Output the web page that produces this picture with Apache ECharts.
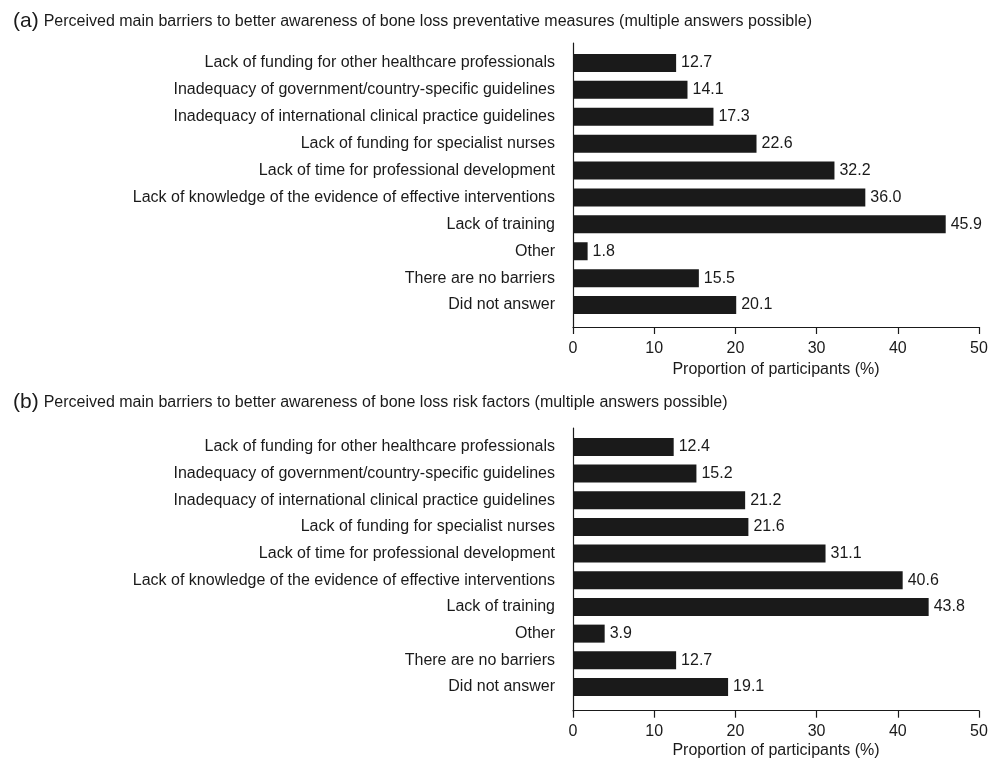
<!DOCTYPE html>
<html>
<head>
<meta charset="utf-8">
<script src="https://cdn.jsdelivr.net/npm/echarts@6/dist/echarts.min.js"></script>
<style>
  html, body { margin: 0; padding: 0; background: #fff; }
  #chart { width: 1000px; height: 760px; }
</style>
</head>
<body>
<div id="chart"></div>
<script>
// Survey answer categories (shared by both panels, listed top to bottom)
const categories = [
  'Lack of funding for other healthcare professionals',
  'Inadequacy of government/country-specific guidelines',
  'Inadequacy of international clinical practice guidelines',
  'Lack of funding for specialist nurses',
  'Lack of time for professional development',
  'Lack of knowledge of the evidence of effective interventions',
  'Lack of training',
  'Other',
  'There are no barriers',
  'Did not answer'
];

// (a) preventative measures, % of participants
const preventativeValues = [12.7, 14.1, 17.3, 22.6, 32.2, 36.0, 45.9, 1.8, 15.5, 20.1];
// (b) risk factors, % of participants
const riskFactorValues = [12.4, 15.2, 21.2, 21.6, 31.1, 40.6, 43.8, 3.9, 12.7, 19.1];

const xTicks = [0, 10, 20, 30, 40, 50];
const titleA = 'Perceived main barriers to better awareness of bone loss preventative measures (multiple answers possible)';
const titleB = 'Perceived main barriers to better awareness of bone loss risk factors (multiple answers possible)';
const axisTitle = 'Proportion of participants (%)';

const FONT = "'Liberation Sans', Arial, sans-serif";
const INK = '#1a1a1a';
const LEFT = 573, RIGHT = 21;

const chart = echarts.init(document.getElementById('chart'), null, { renderer: 'canvas' });

function panelTitle(letter, text, top) {
  return {
    left: 8, top: top,
    text: '{l|(' + letter + ')} {t|' + text + '}',
    textStyle: {
      fontWeight: 'normal',
      rich: {
        l: { fontFamily: FONT, fontSize: 21, fontWeight: 'normal', color: INK },
        t: { fontFamily: FONT, fontSize: 16, fontWeight: 'normal', color: INK }
      }
    }
  };
}

function dataXAxis(gridIndex, offset, labelMargin, nameGap) {
  return {
    gridIndex, type: 'value', min: xTicks[0], max: xTicks[xTicks.length - 1], interval: 10,
    offset,
    name: axisTitle, nameLocation: 'middle', nameGap,
    nameTextStyle: { fontFamily: FONT, fontSize: 16, color: INK },
    axisLine: { show: true, lineStyle: { color: INK, width: 1.2 } },
    axisTick: { show: true, length: 7, lineStyle: { color: INK, width: 1.2 } },
    axisLabel: { fontFamily: FONT, fontSize: 16, color: INK, margin: labelMargin },
    splitLine: { show: false }
  };
}

function dataYAxis(gridIndex) {
  return {
    gridIndex, type: 'category', data: categories, inverse: true,
    axisLine: { show: false }, axisTick: { show: false },
    axisLabel: { fontFamily: FONT, fontSize: 16, color: INK, margin: 18 },
    splitLine: { show: false }
  };
}

// frame grids only carry the vertical axis line, which runs a little past the bars
function frameXAxis(gridIndex) {
  return { gridIndex, type: 'value', show: false, min: 0, max: 1 };
}
function frameYAxis(gridIndex) {
  return {
    gridIndex, type: 'value', min: 0, max: 1,
    axisLine: { show: true, lineStyle: { color: INK, width: 1.2 } },
    axisTick: { show: false }, axisLabel: { show: false }, splitLine: { show: false }
  };
}

function barSeries(axisIndex, values) {
  return {
    type: 'bar', xAxisIndex: axisIndex, yAxisIndex: axisIndex,
    data: values, barWidth: 18,
    itemStyle: { color: INK },
    label: {
      show: true, position: 'right', distance: 5,
      fontFamily: FONT, fontSize: 16, color: INK,
      formatter: p => p.value.toFixed(1)
    },
    silent: true
  };
}

chart.setOption({
  animation: false,
  backgroundColor: '#fff',
  title: [panelTitle('a', titleA, 6), panelTitle('b', titleB, 387)],
  grid: [
    { left: LEFT, right: RIGHT, top: 49.5, height: 269 },
    { left: LEFT, right: RIGHT, top: 433.6, height: 268 },
    { left: LEFT, right: RIGHT, top: 43, height: 284 },
    { left: LEFT, right: RIGHT, top: 428, height: 284 }
  ],
  xAxis: [
    dataXAxis(0, 8.5, 13.7, 35),
    dataXAxis(1, 10.4, 12.7, 32.3),
    frameXAxis(2),
    frameXAxis(3)
  ],
  yAxis: [
    dataYAxis(0),
    dataYAxis(1),
    frameYAxis(2),
    frameYAxis(3)
  ],
  series: [
    barSeries(0, preventativeValues),
    barSeries(1, riskFactorValues)
  ]
});
</script>
</body>
</html>
